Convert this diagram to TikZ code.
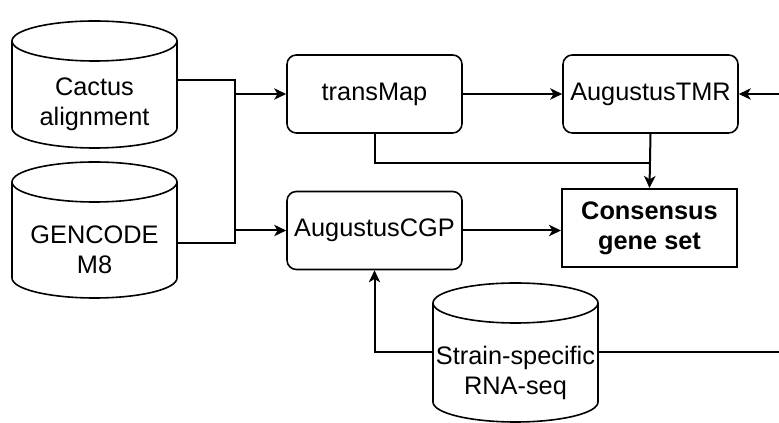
\documentclass[tikz,border=0pt]{standalone}
\usepackage{fontspec}
\setmainfont{Liberation Sans}
\usepackage{tikz}
\usetikzlibrary{arrows.meta}

\tikzset{
  db/.style={minimum width=123.75pt,inner sep=0pt,outer sep=0pt,align=center},
  dbline/.style={line width=1.2pt},
  tool/.style={draw,rounded corners=7pt,line width=1.2pt,minimum width=131.25pt,
    minimum height=58.5pt,inner sep=0pt,align=center},
  result/.style={tool,rounded corners=0pt,line width=1.5pt,
    font=\fontsize{19}{22.5}\selectfont\bfseries},
  conn/.style={line width=1.5pt},
  arr/.style={conn,->}
}

\begin{document}
\begin{tikzpicture}[x=0.75pt,y=-0.75pt,>={Stealth[length=9pt,width=8.5pt,inset=2.5pt]},
    font=\fontsize{19}{22.5}\selectfont]
  \clip (0,0) rectangle (779,423);

  % cylinder bodies (below the top cap)
  \node[db,minimum height=65.25pt] (cactus) at (94.5,104.5) {Cactus\\alignment};
  \node[db,minimum height=72pt] (gencode) at (94.5,250) {GENCODE\\M8};
  \node[db,minimum height=74.25pt] (rnaseq) at (515.5,372.5) {Strain-specific\\RNA-seq};
  \foreach \n in {cactus,gencode,rnaseq} {
    \draw[dbline] ([yshift=15pt]\n.north) ellipse [x radius=61.875pt,y radius=15pt];
    \draw[dbline] ([yshift=15pt]\n.north west) -- ([yshift=15pt]\n.south west)
      arc[start angle=180,end angle=360,x radius=61.875pt,y radius=15pt]
      -- ([yshift=15pt]\n.north east);
  }

  \node[tool] (transmap) at (374.5,94) {transMap};
  \node[tool] (tmr) at (650.5,94) {AugustusTMR};
  \node[tool] (cgp) at (374.5,230.5) {AugustusCGP};
  \node[result] (consensus) at (649.5,228) {Consensus\\gene set};

  \coordinate (bus) at (235,0);
  \coordinate (outer) at (790,0);
  \path (tmr.south) ++(0,29) coordinate (merge);

  % inputs to the two predictors
  \draw[conn] ([yshift=18.4pt]cactus.east) -- ([yshift=18.4pt]cactus.east -| bus)
    -- ([yshift=5.25pt]gencode.east -| bus) -- ([yshift=5.25pt]gencode.east);
  \draw[arr] (transmap.west -| bus) -- (transmap.west);
  \draw[arr] (cgp.west -| bus) -- (cgp.west);

  \draw[arr] (transmap) -- (tmr);
  \draw[conn] (transmap.south) |- (merge);
  \draw[arr] (tmr.south) -- (consensus.north);
  \draw[arr] (cgp) -- (consensus.west |- cgp);

  % RNA-seq hints
  \draw[arr] ([yshift=15.4pt]rnaseq.west) -| (cgp.south);
  \draw[arr] ([yshift=15.4pt]rnaseq.east) -- ([yshift=15.4pt]rnaseq.east -| outer)
    -- (tmr.east -| outer) -- (tmr.east);
\end{tikzpicture}
\end{document}
